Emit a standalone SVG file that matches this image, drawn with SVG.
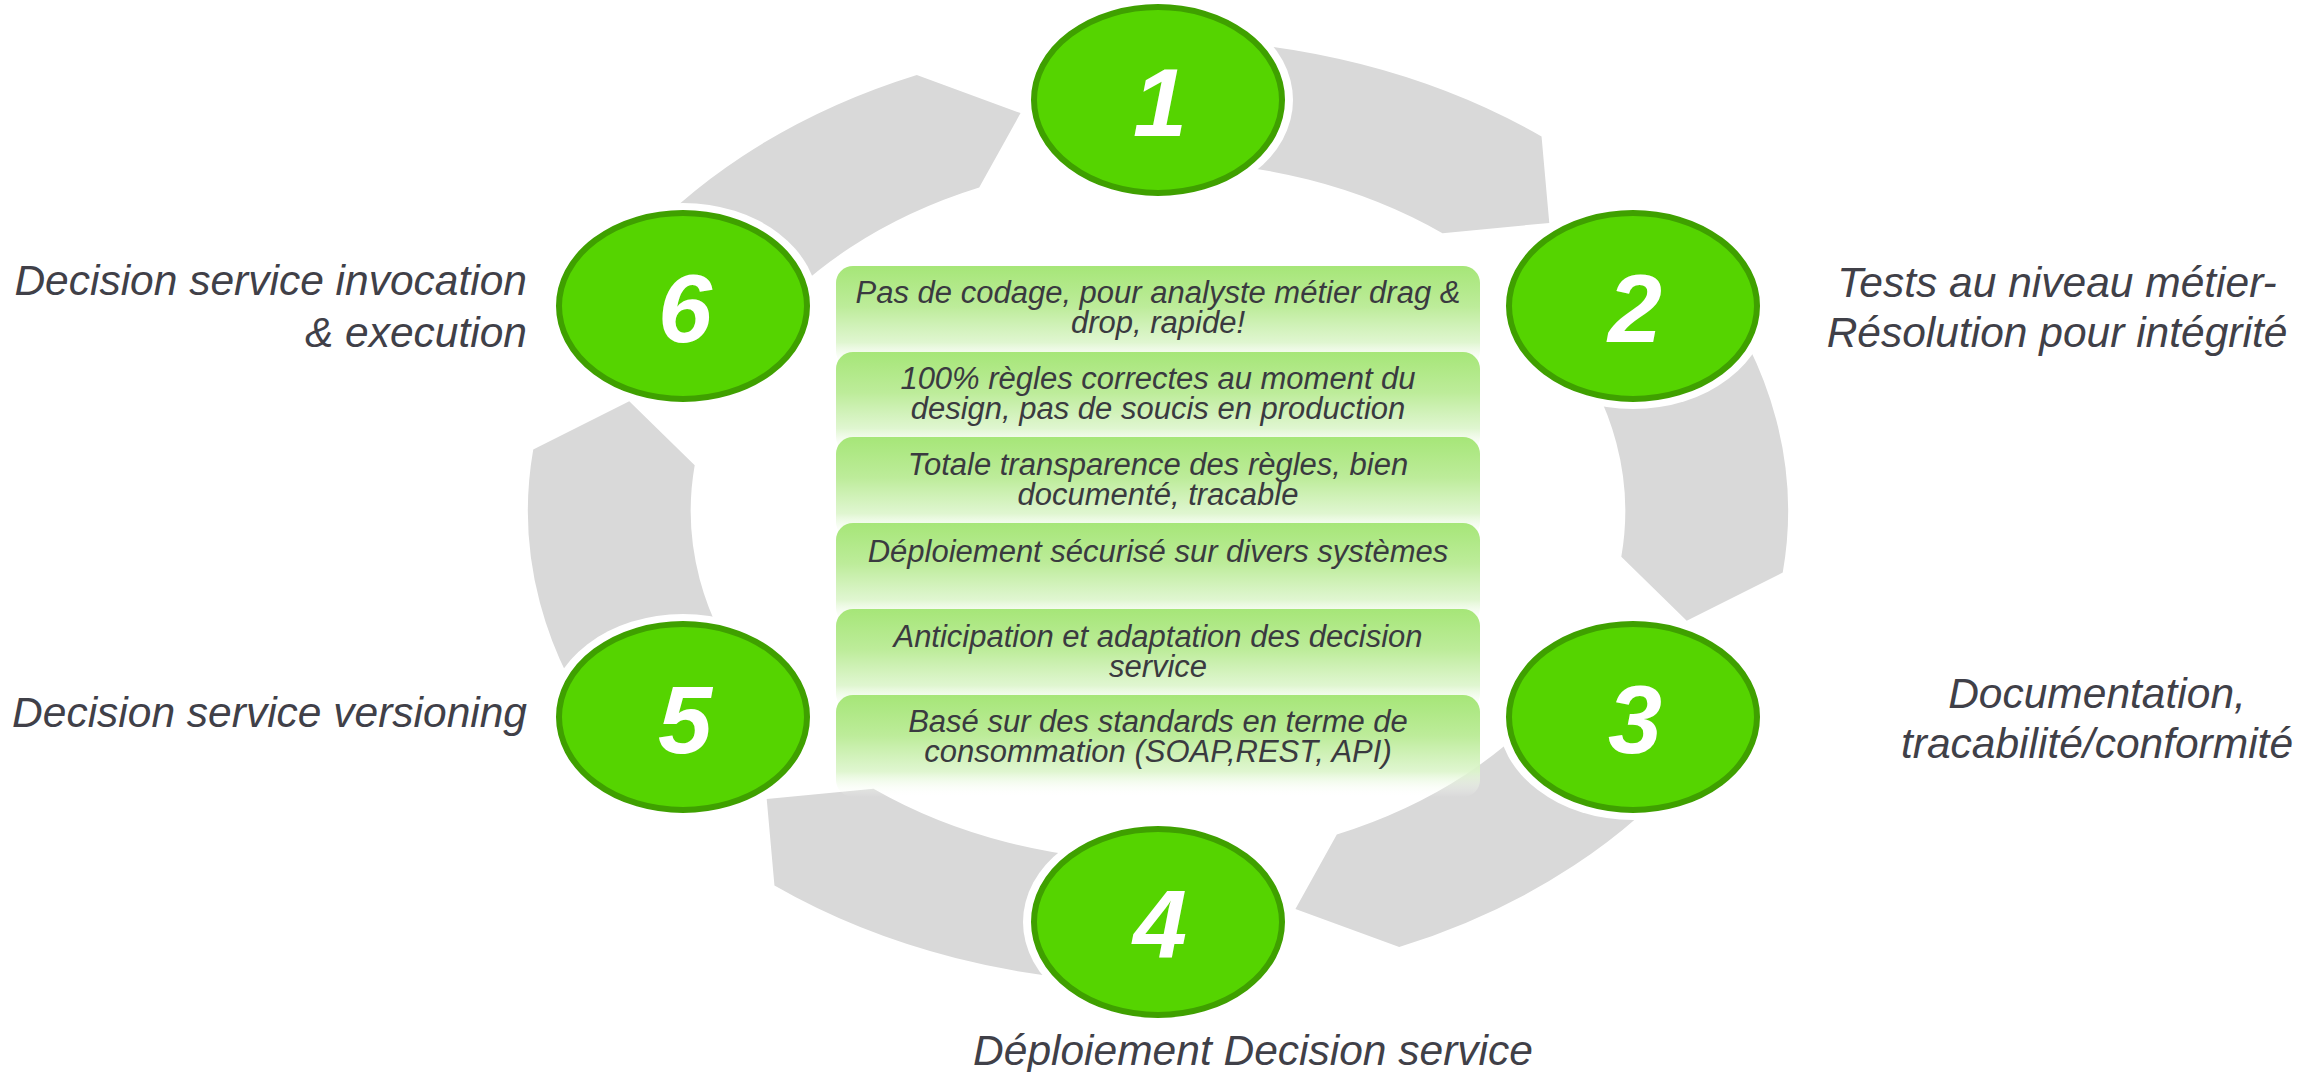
<svg xmlns="http://www.w3.org/2000/svg" width="2320" height="1072" viewBox="0 0 2320 1072">
<defs>
<linearGradient id="boxGrad" x1="0" y1="0" x2="0" y2="1">
<stop offset="0" stop-color="#a6e678"/>
<stop offset="0.4" stop-color="#bdec9a"/>
<stop offset="0.75" stop-color="#dcf5cb" stop-opacity="0.9"/>
<stop offset="1" stop-color="#ffffff" stop-opacity="0"/>
</linearGradient>
<path id="seg" d="M0,-472 A472,472 0 0 1 287.3,-374.5 L293.1,-288.1 L213.1,-277.7 A350,350 0 0 0 0,-350 Z"/>
</defs>
<style>
.arrow{fill:#d9d9d9}
.halo{fill:#ffffff}
.disc{fill:#55d400;stroke:#3fa000;stroke-width:6}
.num{font-family:"Liberation Sans",Arial,sans-serif;font-weight:bold;font-style:italic;font-size:97px;fill:#ffffff;text-anchor:middle}
.lbl{font-family:"Liberation Sans",Arial,sans-serif;font-style:italic;font-size:42.5px;fill:#404048}
.box{fill:url(#boxGrad)}
.btxt{font-family:"Liberation Sans",Arial,sans-serif;font-style:italic;font-size:31px;fill:#3a3a40;text-anchor:middle}
</style>
<rect width="2320" height="1072" fill="#ffffff"/>
<g id="connectors" transform="translate(1158,511) scale(1.335,1)">
<use href="#seg" class="arrow"/>
<use href="#seg" class="arrow" transform="rotate(60)"/>
<use href="#seg" class="arrow" transform="rotate(120)"/>
<use href="#seg" class="arrow" transform="rotate(180)"/>
<use href="#seg" class="arrow" transform="rotate(240)"/>
<use href="#seg" class="arrow" transform="rotate(300)"/>
</g>
<g id="node1">
<ellipse class="halo" cx="1158" cy="100" rx="135" ry="103"/>
<ellipse class="disc" cx="1158" cy="100" rx="124" ry="93"/>
<text class="num" x="1160" y="136">1</text>
</g>
<g id="node2">
<ellipse class="halo" cx="1633" cy="306" rx="135" ry="103"/>
<ellipse class="disc" cx="1633" cy="306" rx="124" ry="93"/>
<text class="num" x="1635" y="342">2</text>
<text class="lbl" text-anchor="middle"><tspan x="2057" y="297">Tests au niveau métier-</tspan><tspan x="2057" y="347">Résolution pour intégrité</tspan></text>
</g>
<g id="node3">
<ellipse class="halo" cx="1633" cy="717" rx="135" ry="103"/>
<ellipse class="disc" cx="1633" cy="717" rx="124" ry="93"/>
<text class="num" x="1635" y="753">3</text>
<text class="lbl" text-anchor="middle"><tspan x="2097" y="708">Documentation,</tspan><tspan x="2097" y="758">tracabilité/conformité</tspan></text>
</g>
<g id="node4">
<ellipse class="halo" cx="1158" cy="922" rx="135" ry="103"/>
<ellipse class="disc" cx="1158" cy="922" rx="124" ry="93"/>
<text class="num" x="1160" y="958">4</text>
<text class="lbl" text-anchor="middle" x="1253" y="1065">Déploiement Decision service</text>
</g>
<g id="node5">
<ellipse class="halo" cx="683" cy="717" rx="135" ry="103"/>
<ellipse class="disc" cx="683" cy="717" rx="124" ry="93"/>
<text class="num" x="685" y="753">5</text>
<text class="lbl" text-anchor="end" x="527" y="727">Decision service versioning</text>
</g>
<g id="node6">
<ellipse class="halo" cx="683" cy="306" rx="135" ry="103"/>
<ellipse class="disc" cx="683" cy="306" rx="124" ry="93"/>
<text class="num" x="685" y="342">6</text>
<text class="lbl" text-anchor="end"><tspan x="527" y="295">Decision service invocation</tspan><tspan x="527" y="347">&amp; execution</tspan></text>
</g>
<g id="box1">
<rect class="box" x="836" y="266" width="644" height="102" rx="17"/>
<text class="btxt"><tspan x="1158" y="303">Pas de codage, pour analyste métier drag &amp;</tspan><tspan x="1158" y="333">drop, rapide!</tspan></text>
</g>
<g id="box2">
<rect class="box" x="836" y="352" width="644" height="102" rx="17"/>
<text class="btxt"><tspan x="1158" y="389">100% règles correctes au moment du</tspan><tspan x="1158" y="419">design, pas de soucis en production</tspan></text>
</g>
<g id="box3">
<rect class="box" x="836" y="437" width="644" height="102" rx="17"/>
<text class="btxt"><tspan x="1158" y="475">Totale transparence des règles, bien</tspan><tspan x="1158" y="505">documenté, tracable</tspan></text>
</g>
<g id="box4">
<rect class="box" x="836" y="523" width="644" height="102" rx="17"/>
<text class="btxt" x="1158" y="562">Déploiement sécurisé sur divers systèmes</text>
</g>
<g id="box5">
<rect class="box" x="836" y="609" width="644" height="102" rx="17"/>
<text class="btxt"><tspan x="1158" y="647">Anticipation et adaptation des decision</tspan><tspan x="1158" y="677">service</tspan></text>
</g>
<g id="box6">
<rect class="box" x="836" y="695" width="644" height="102" rx="17"/>
<text class="btxt"><tspan x="1158" y="732">Basé sur des standards en terme de</tspan><tspan x="1158" y="762">consommation (SOAP,REST, API)</tspan></text>
</g>
</svg>
